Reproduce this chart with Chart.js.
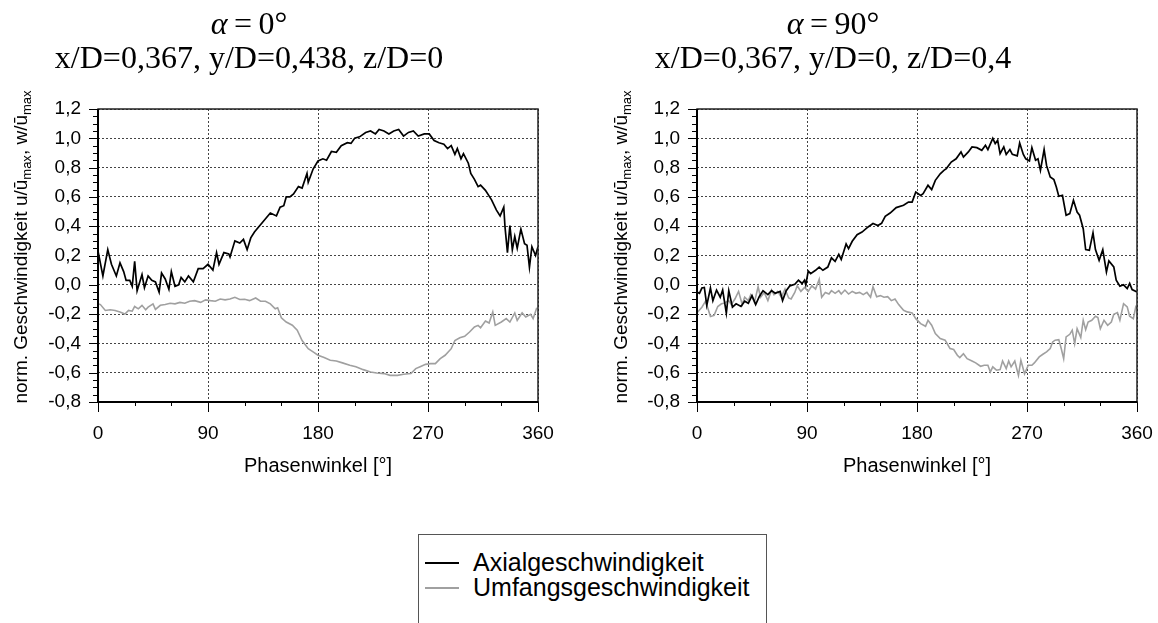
<!doctype html>
<html lang="de">
<head>
<meta charset="utf-8">
<title>Phasenwinkel</title>
<style>
  body { margin:0; width:1158px; height:623px; overflow:hidden; background:#fff; position:relative;
         font-family:"Liberation Sans", Arial, sans-serif; color:#000; }
  canvas { position:absolute; top:0; }
  .title { position:absolute; width:560px; text-align:center; font-family:"Liberation Serif", serif;
           font-size:32px; line-height:34px; white-space:nowrap; }
  .ylab { position:absolute; width:360px; height:24px; line-height:24px; text-align:center; font-size:19px;
          transform:rotate(-90deg); white-space:nowrap; }
  .ylab sub { font-size:13px; vertical-align:-4px; }
  .xlab { position:absolute; width:300px; text-align:center; font-size:20px; line-height:22px; }
  #legend { position:absolute; left:418px; top:534px; width:347px; height:110px; border:1px solid #555; }
  #legend .swatch { position:absolute; left:6px; width:34px; height:2px; }
  #legend .lbl { position:absolute; left:54px; white-space:nowrap; font-size:25px; line-height:26px; }
</style>
</head>
<body>
  <canvas id="left" width="580" height="470" style="left:0"></canvas>
  <canvas id="right" width="580" height="470" style="left:599px"></canvas>

  <div class="title" style="left:-31px; top:6px"><i>α</i>&#8201;=&#8201;0°<br>x/D=0,367, y/D=0,438, z/D=0</div>
  <div class="title" style="left:553px; top:6px"><i>α</i>&#8201;=&#8201;90°<br>x/D=0,367, y/D=0, z/D=0,4</div>

  <div class="ylab" style="left:-159px; top:235px">norm. Geschwindigkeit u/ū<sub>max</sub>, w/ū<sub>max</sub></div>
  <div class="ylab" style="left:441px; top:235px">norm. Geschwindigkeit u/ū<sub>max</sub>, w/ū<sub>max</sub></div>

  <div class="xlab" style="left:168px; top:454px">Phasenwinkel [°]</div>
  <div class="xlab" style="left:767px; top:454px">Phasenwinkel [°]</div>

  <div id="legend">
    <div class="swatch" style="top:27px; background:#000"></div>
    <div class="lbl" style="top:14px">Axialgeschwindigkeit</div>
    <div class="swatch" style="top:52px; background:#a0a0a0"></div>
    <div class="lbl" style="top:39px">Umfangsgeschwindigkeit</div>
  </div>

  <script src="https://cdn.jsdelivr.net/npm/chart.js@4/dist/chart.umd.min.js"></script>
  <script>
  // alpha = 0 deg
  const phiAxL = [
    0, 4, 8, 11, 15, 18, 21, 23, 26, 28,
    30, 32, 36, 38, 41, 44, 47, 50, 52, 55,
    58, 60, 63, 66, 68, 71, 74, 78, 82, 86,
    90, 94, 97, 99, 103, 107, 108, 112, 116, 119,
    122, 125, 128, 135, 141, 146, 149, 152, 154, 157,
    160, 164, 167, 171, 172, 176, 180, 184, 187, 191,
    195, 199, 204, 207, 210, 214, 219, 223, 227, 230,
    234, 238, 242, 246, 250, 254, 258, 262, 267, 271,
    275, 279, 283, 286, 289, 292, 294, 297, 299, 303,
    305, 308, 311, 313, 317, 322, 326, 329, 332, 333,
    335, 337, 339, 341, 343, 346, 349, 351, 353, 355,
    358, 360
  ];
  const axialL = [
    0.23, 0.06, 0.24, 0.14, 0.06, 0.15, 0.09, 0.03, 0.03, -0.01,
    0.16, -0.04, 0.07, -0.02, 0.06, 0.03, 0.02, -0.05, 0.08, 0.04,
    -0.03, 0.09, -0.01, 0.00, 0.05, 0.02, 0.06, 0.02, 0.11, 0.11,
    0.14, 0.10, 0.22, 0.14, 0.22, 0.21, 0.19, 0.30, 0.285, 0.31,
    0.24, 0.32, 0.36, 0.43, 0.49, 0.47, 0.53, 0.54, 0.60, 0.60,
    0.62, 0.67, 0.66, 0.76, 0.70, 0.79, 0.845, 0.86, 0.85, 0.91,
    0.905, 0.95, 0.97, 0.965, 1.00, 1.01, 1.04, 1.05, 1.03, 1.06,
    1.05, 1.03, 1.05, 1.06, 1.015, 1.04, 1.05, 1.015, 1.03, 1.03,
    0.985, 0.97, 0.96, 0.93, 0.95, 0.89, 0.93, 0.86, 0.895, 0.83,
    0.76, 0.72, 0.67, 0.68, 0.645, 0.58, 0.51, 0.47, 0.53, 0.395,
    0.22, 0.405, 0.24, 0.33, 0.25, 0.38, 0.28, 0.27, 0.12, 0.26,
    0.20, 0.26
  ];
  const phiUmL = [
    0,
    2, 6, 10, 14, 18, 22, 25, 28, 30, 33,
    36, 39, 41, 45, 47, 51, 55, 59, 63, 67,
    71, 75, 79, 84, 88, 92, 96, 100, 104, 108,
    112, 116, 120, 124, 129, 133, 137, 141, 145, 147,
    150, 154, 159, 163, 167, 172, 176, 180, 185, 190,
    195, 200, 206, 211, 217, 223, 228, 234, 239, 245,
    250, 256, 260, 264, 268, 272, 276, 280, 284, 289,
    292, 296, 300, 304, 308, 311, 313, 317, 320, 323,
    325, 330, 334, 337, 341, 343, 347, 350, 354, 356,
    359
  ];
  const umfangL = [
    -0.13,
    -0.135, -0.175, -0.17, -0.175, -0.186, -0.20, -0.175, -0.18, -0.148, -0.164,
    -0.14, -0.17, -0.153, -0.13, -0.168, -0.14, -0.135, -0.126, -0.13, -0.12,
    -0.126, -0.112, -0.108, -0.12, -0.103, -0.108, -0.112, -0.097, -0.103, -0.097,
    -0.085, -0.10, -0.099, -0.108, -0.09, -0.112, -0.112, -0.13, -0.164, -0.157,
    -0.225, -0.254, -0.276, -0.31, -0.38, -0.436, -0.458, -0.481, -0.497, -0.515,
    -0.52, -0.533, -0.549, -0.56, -0.579, -0.595, -0.602, -0.606, -0.618, -0.618,
    -0.611, -0.606, -0.572, -0.557, -0.543, -0.538, -0.538, -0.504, -0.481, -0.436,
    -0.38, -0.361, -0.352, -0.322, -0.288, -0.277, -0.293, -0.247, -0.261, -0.185,
    -0.277, -0.254, -0.231, -0.254, -0.192, -0.243, -0.192, -0.22, -0.201, -0.231,
    -0.156
  ];

  // alpha = 90 deg
  const phiAxR = [
    0,
    2, 4, 6, 8, 11, 13, 16, 19, 21, 24,
    26, 29, 32, 36, 39, 42, 45, 48, 51, 54,
    58, 61, 64, 68, 70, 73, 76, 80, 83, 86,
    88, 89, 91, 93, 97, 100, 103, 107, 110, 113,
    116, 118, 122, 124, 127, 131, 135, 140, 144, 148,
    151, 154, 158, 163, 169, 173, 176, 179, 183, 185,
    189, 192, 195, 199, 202, 204, 208, 212, 216, 218,
    222, 225, 229, 233, 236, 238, 242, 244, 246, 248,
    251, 253, 256, 258, 262, 264, 267, 269, 272, 274,
    277, 279, 281, 284, 286, 289, 292, 294, 296, 299,
    302, 305, 308, 311, 313, 316, 318, 321, 324, 326,
    329, 332, 335, 337, 341, 343, 346, 349, 352, 354,
    356, 360
  ];
  const axialR = [
    -0.05,
    -0.058, -0.022, -0.018, -0.14, -0.022, -0.108, -0.036, -0.085, -0.036, -0.193,
    -0.04, -0.153, -0.13, -0.148, -0.112, -0.126, -0.074, -0.135, -0.08, -0.04,
    -0.067, -0.04, -0.058, -0.045, -0.108, -0.04, -0.007, 0.004, 0.031, 0.009,
    0.031, 0.0, 0.094, 0.076, 0.099, 0.121, 0.099, 0.121, 0.184, 0.16,
    0.207, 0.173, 0.279, 0.247, 0.297, 0.342, 0.36, 0.395, 0.418, 0.405,
    0.42, 0.468, 0.49, 0.527, 0.543, 0.565, 0.565, 0.633, 0.61, 0.622,
    0.679, 0.65, 0.713, 0.758, 0.781, 0.793, 0.838, 0.86, 0.907, 0.872,
    0.907, 0.941, 0.936, 0.918, 0.952, 0.923, 1.0, 0.964, 0.986, 0.895,
    0.941, 0.89, 0.923, 0.89, 0.88, 0.968, 0.89, 0.86, 0.845, 0.936,
    0.85, 0.86, 0.781, 0.923, 0.815, 0.736, 0.718, 0.668, 0.604, 0.611,
    0.475, 0.486, 0.577, 0.497, 0.475, 0.383, 0.24, 0.235, 0.354, 0.24,
    0.167, 0.24, 0.088, 0.163, 0.122, 0.031, -0.01, 0.0, -0.026, 0.009,
    -0.033, -0.049
  ];
  const phiUmR = [
    0,
    4, 7, 9, 11, 14, 17, 20, 22, 26, 28,
    31, 34, 37, 39, 42, 44, 47, 50, 52, 55,
    58, 61, 63, 66, 69, 72, 75, 77, 80, 82,
    85, 88, 91, 94, 97, 100, 102, 105, 108, 110,
    113, 116, 118, 121, 124, 127, 130, 133, 136, 139,
    142, 144, 147, 150, 153, 156, 159, 162, 165, 169,
    172, 176, 179, 183, 187, 189, 192, 195, 199, 203,
    207, 210, 213, 215, 218, 221, 225, 228, 232, 235,
    238, 240, 242, 245, 248, 250, 253, 255, 257, 260,
    263, 265, 268, 271, 274, 276, 280, 283, 286, 289,
    291, 293, 296, 298, 300, 302, 305, 307, 309, 311,
    314, 316, 318, 320, 323, 326, 328, 330, 333, 336,
    339, 341, 344, 346, 349, 352, 354, 357, 359, 360
  ];
  const umfangR = [
    -0.19,
    -0.153, -0.112, -0.164, -0.216, -0.209, -0.148, -0.13, -0.126, -0.108, -0.135,
    -0.097, -0.045, -0.135, -0.085, -0.108, -0.067, -0.119, -0.013, -0.085, -0.052,
    -0.108, -0.036, -0.067, -0.045, -0.085, -0.029, -0.09, -0.097, -0.052, -0.007,
    -0.045, -0.018, -0.045, -0.007, -0.029, 0.038, -0.085, -0.052, -0.063, -0.04,
    -0.058, -0.04, -0.063, -0.036, -0.063, -0.045, -0.058, -0.052, -0.067, -0.052,
    -0.085, -0.013, -0.081, -0.074, -0.085, -0.081, -0.108, -0.097, -0.135, -0.174,
    -0.185, -0.192, -0.231, -0.265, -0.283, -0.242, -0.276, -0.333, -0.367, -0.378,
    -0.435, -0.442, -0.481, -0.497, -0.47, -0.504, -0.52, -0.533, -0.556, -0.549,
    -0.549, -0.595, -0.56, -0.583, -0.579, -0.52, -0.572, -0.52, -0.56, -0.52,
    -0.618, -0.515, -0.607, -0.549, -0.549, -0.533, -0.492, -0.474, -0.458, -0.435,
    -0.39, -0.378, -0.374, -0.435, -0.504, -0.356, -0.338, -0.31, -0.401, -0.3,
    -0.36, -0.242, -0.306, -0.254, -0.242, -0.215, -0.224, -0.3, -0.242, -0.276,
    -0.254, -0.201, -0.19, -0.242, -0.129, -0.151, -0.215, -0.231, -0.151, -0.162
  ];

  const seriesNames = ['Axialgeschwindigkeit', 'Umfangsgeschwindigkeit'];
  const seriesColors = ['#000000', '#a0a0a0'];

  Chart.defaults.font.family = '"Liberation Sans", Arial, sans-serif';
  Chart.defaults.font.size = 19;
  Chart.defaults.color = '#000';

  // box, axis lines and major/minor tick marks
  const frame = {
    id: 'frame',
    afterDraw(chart) {
      const ctx = chart.ctx, a = chart.chartArea;
      const x = chart.scales.x, y = chart.scales.y;
      ctx.save();
      ctx.strokeStyle = '#000';
      ctx.lineWidth = 1;
      ctx.beginPath();
      for (let i = -16; i <= 24; i++) {
        const py = Math.round(y.getPixelForValue(i * 0.05)) + 0.5;
        ctx.moveTo(a.left - (i % 4 === 0 ? 9 : 5), py);
        ctx.lineTo(a.left, py);
      }
      for (let i = 0; i <= 12; i++) {
        const px = Math.round(x.getPixelForValue(i * 30)) + 0.5;
        ctx.moveTo(px, a.bottom);
        ctx.lineTo(px, a.bottom + (i % 3 === 0 ? 10 : 4));
      }
      ctx.stroke();
      ctx.strokeStyle = '#222';
      ctx.lineWidth = 1.5;
      ctx.strokeRect(a.left, a.top, a.right - a.left, a.bottom - a.top);
      ctx.strokeStyle = '#000';
      ctx.lineWidth = 2;
      ctx.beginPath();
      ctx.moveTo(a.left, a.top);
      ctx.lineTo(a.left, a.bottom);
      ctx.lineTo(a.right, a.bottom);
      ctx.stroke();
      ctx.restore();
    }
  };

  function pts(phi, vals) {
    return phi.map((p, i) => ({x: p, y: vals[i]}));
  }

  function plot(canvas, axial, umfang) {
    new Chart(canvas.getContext('2d'), {
      type: 'line',
      data: {
        datasets: [
          { label: seriesNames[0], data: axial, borderColor: seriesColors[0], borderWidth: 1.7,
            pointRadius: 0, tension: 0 },
          { label: seriesNames[1], data: umfang, borderColor: seriesColors[1], borderWidth: 1.6,
            pointRadius: 0, tension: 0 }
        ]
      },
      options: {
        responsive: false,
        animation: false,
        devicePixelRatio: 1,
        layout: { padding: { left: 0, top: 109, right: 42, bottom: 28 } },
        plugins: { legend: { display: false }, tooltip: { enabled: false } },
        scales: {
          x: {
            type: 'linear', min: 0, max: 360,
            ticks: { stepSize: 90, padding: 20, maxRotation: 0 },
            grid: { color: '#444', lineWidth: 1, drawTicks: false },
            border: { display: false, dash: [2, 2] },
            afterFit: s => { s.height = 40; }
          },
          y: {
            min: -0.8, max: 1.2,
            ticks: { stepSize: 0.2, padding: 17,
                     callback: v => (Math.round(v * 10) / 10).toFixed(1).replace('.', ',') },
            grid: { color: '#444', lineWidth: 1, drawTicks: false },
            border: { display: false, dash: [2, 2] },
            afterFit: s => { s.width = 98; }
          }
        }
      },
      plugins: [frame]
    });
  }

  plot(document.getElementById('left'), pts(phiAxL, axialL), pts(phiUmL, umfangL));
  plot(document.getElementById('right'), pts(phiAxR, axialR), pts(phiUmR, umfangR));
  </script>
</body>
</html>
